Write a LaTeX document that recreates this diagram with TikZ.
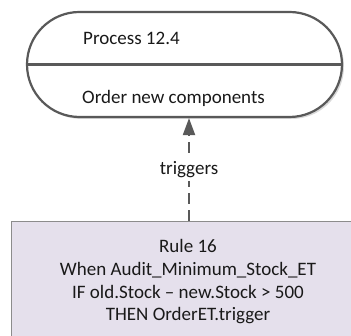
\documentclass[tikz,border=0pt]{standalone}
\usepackage{fontspec}
\setmainfont{Carlito}
\usetikzlibrary{shapes.misc,arrows.meta}
\definecolor{edgegray}{HTML}{595959}
\definecolor{boxfill}{HTML}{E5E0EC}
\definecolor{boxline}{HTML}{8C8C8C}
\definecolor{shadowgray}{HTML}{D9D9D9}
\tikzset{
  pill/.style={rounded rectangle, draw=edgegray, line width=2.2pt, fill=white,
    minimum width=315pt, minimum height=105pt, inner sep=0pt},
  lbl/.style={font=\fontsize{19}{22.8}\selectfont, inner sep=0pt, text=black!90},
  rulebox/.style={draw=boxline, line width=0.9pt, fill=boxfill},
  trig/.style={draw=edgegray, line width=2pt, dash pattern=on 11pt off 6pt,
    -{Triangle[length=17pt,width=12pt]}},
}
\begin{document}
\begin{tikzpicture}[x=1pt,y=-1pt]
\useasboundingbox (0,0) rectangle (351,336);
\clip (0,0) rectangle (351,336);
\fill[white] (0,0) rectangle (351,336);
% shadow of the pill
\node[rounded rectangle, fill=shadowgray, minimum width=315pt, minimum height=105pt, inner sep=0pt] (procshadow) at (186.5,66.5) {};
\node[pill] (proc) at (184.5,64.5) {};
\draw[edgegray, line width=2.2pt] (proc.west) -- (proc.east);
\node[lbl, anchor=base west] (ptitle) at (83,45) {Process 12.4};
\node[lbl, anchor=base west] (pname) at (82,103.5) {Order new components};
% rule box
\node[rulebox, minimum width=358pt, minimum height=150pt, inner sep=0pt, anchor=north west] (rule) at (11,221) {};
\node[lbl, anchor=base, align=center] (ruletext) at (188,321) {Rule 16\\When Audit\_Minimum\_Stock\_ET\\IF old.Stock – new.Stock > 500\\THEN OrderET.trigger};
% connector
\coordinate (ax) at (189,0);
\draw[trig] (rule.north -| ax) -- (proc.south -| ax)
  node[pos=0.5, fill=white, lbl, inner xsep=1pt, inner ysep=3pt] (trg) {triggers};
\end{tikzpicture}
\end{document}
